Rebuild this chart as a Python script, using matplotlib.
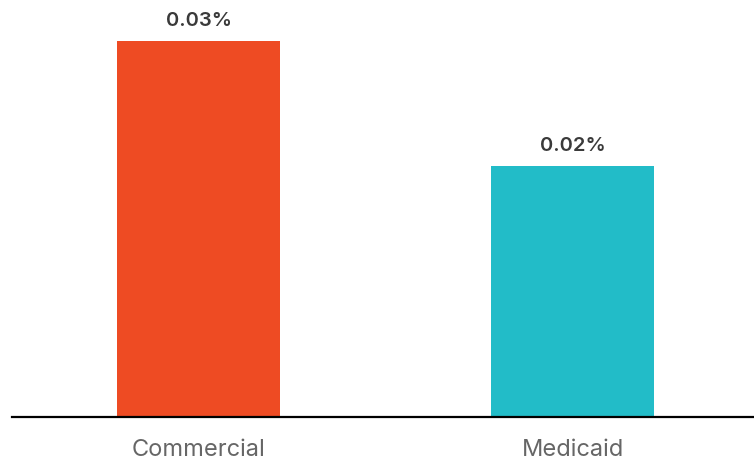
import matplotlib
matplotlib.use("Agg")
import matplotlib.pyplot as plt

categories = ["Commercial", "Medicaid"]
values = [0.03, 0.02]
value_labels = ["0.03%", "0.02%"]
colors = ["#EE4B23", "#22BCC8"]

W, H = 754, 464
fig = plt.figure(figsize=(W / 100, H / 100), dpi=100)
ax = fig.add_axes([12 / W, (H - 418) / H, (W - 12) / W, 418 / H])

x = list(range(len(categories)))
ax.bar(x, values, width=0.436, color=colors, zorder=2)

ax.set_xlim(-0.499, 1.485)
ax.set_ylim(0, 0.03 * 418 / 376)

for xi, v, lab in zip(x, values, value_labels):
    ax.annotate(lab, (xi, v), xytext=(0, 9), textcoords="offset points",
                ha="center", va="bottom", fontsize=14.5, fontweight="semibold",
                color="#3a3a3a", family=["Inter", "DejaVu Sans"])

for s in ["top", "right", "left"]:
    ax.spines[s].set_visible(False)
ax.spines["bottom"].set_linewidth(1.6)
ax.spines["bottom"].set_color("black")
ax.set_yticks([])
ax.set_xticks(x)
ax.set_xticklabels(categories, fontsize=17, color="#666666", family=["Inter", "DejaVu Sans"])
ax.tick_params(axis="x", length=0, pad=15)

fig.savefig("out.png", dpi=100)
